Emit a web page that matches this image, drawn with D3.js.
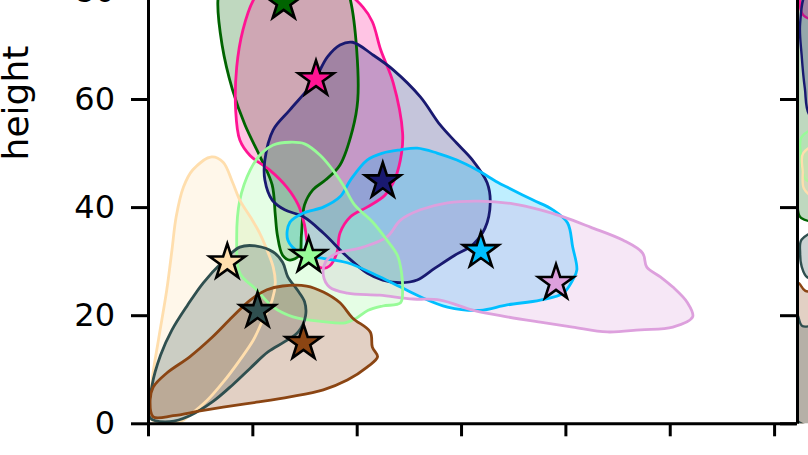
<!DOCTYPE html>
<html>
<head>
<meta charset="utf-8">
<script src="https://cdn.jsdelivr.net/npm/d3@7"></script>
<style>
  html, body { margin: 0; padding: 0; background: #fff; }
  svg { display: block; font-family: "DejaVu Sans", sans-serif; }
</style>
</head>
<body>
<svg id="chart" width="808" height="455"></svg>
<script>
// ---------- data (x: arbitrary units, y: height) ----------
const groupNames = ["g1", "g2", "g3", "g4", "g5", "g6", "g7", "g8", "g9"];
const groupColors = ["#006400", "#FF1493", "#191970", "#00BFFF", "#DDA0DD", "#98FB98", "#FFDEAD", "#2F4F4F", "#8B4513"];
const centerX = [13.0, 16.1, 22.5, 31.9, 39.1, 15.4, 7.6, 10.5, 14.9];
const centerY = [77.8, 63.7, 44.8, 31.9, 26.0, 31.0, 29.8, 20.8, 14.9];

const yTickValues = [0, 20, 40, 60, 80];
const xTickValues = [0, 10, 20, 30, 40, 50, 60];

const contourG1 = [[9.8,89.4],[14.6,88.5],[18.4,83.9],[19.4,78.3],[20.0,69.1],[20.1,59.8],[19.6,54.3],[18.4,47.8],[17.0,45.0],[15.8,43.2],[15.0,40.4],[14.7,34.8],[14.5,31.1],[13.6,30.2],[12.9,31.1],[12.4,34.8],[12.2,38.5],[11.9,44.1],[10.9,48.7],[9.3,55.2],[8.1,61.7],[7.1,70.0],[6.7,78.3],[7.4,84.8]];
const contourG2 = [[11.2,81.1],[14.6,81.6],[18.9,79.8],[20.6,77.0],[21.5,74.3],[22.3,69.1],[23.5,63.0],[24.4,53.7],[24.3,50.0],[23.7,45.4],[22.7,42.2],[21.0,40.0],[19.4,38.2],[18.4,35.2],[18.1,31.5],[17.4,29.1],[16.7,28.7],[15.9,29.8],[15.3,33.0],[15.0,36.7],[14.4,40.4],[13.3,43.7],[11.7,46.8],[9.8,49.5],[8.8,52.4],[8.4,58.0],[8.5,65.9],[9.1,72.8],[10.1,78.3]];
const contourG3 = [[19.6,70.5],[21.6,68.1],[23.5,65.4],[26.1,60.4],[28.0,55.2],[29.6,51.8],[31.1,48.7],[32.5,44.5],[32.8,40.8],[32.3,36.1],[31.1,33.0],[29.4,31.1],[27.5,28.7],[25.8,26.5],[24.2,26.0],[22.5,26.5],[21.0,27.8],[19.1,30.8],[16.8,35.2],[14.9,38.2],[13.1,39.5],[11.9,41.3],[11.2,45.0],[11.2,48.7],[12.0,54.3],[13.6,58.0],[15.8,63.0],[17.2,67.8],[18.4,70.0]];
const contourG4 = [[13.6,37.2],[14.9,38.9],[16.8,40.0],[18.4,41.9],[19.4,45.0],[21.0,48.7],[22.5,50.0],[24.2,50.6],[25.8,50.9],[27.7,50.0],[29.6,48.7],[31.5,46.9],[33.5,44.6],[34.4,43.7],[36.9,41.3],[38.8,39.5],[40.2,37.1],[40.7,32.6],[41.1,28.4],[40.7,26.5],[39.8,24.1],[37.6,22.8],[34.4,21.9],[31.8,20.9],[28.7,21.5],[26.1,23.4],[24.2,25.2],[22.2,27.1],[19.1,29.7],[16.5,30.6],[14.6,31.5],[13.4,33.9]];
const contourG5 = [[17.0,29.8],[17.9,31.3],[20.6,32.6],[22.9,34.5],[24.2,37.6],[26.1,39.5],[28.7,40.8],[31.8,41.1],[35.0,40.6],[37.6,39.5],[39.8,38.2],[42.4,36.3],[45.5,33.9],[47.4,31.5],[47.8,28.9],[49.1,27.1],[50.3,25.2],[51.7,22.3],[52.2,19.7],[50.3,17.8],[47.2,17.3],[44.0,16.9],[40.7,17.8],[37.6,18.7],[34.4,19.7],[31.2,20.9],[28.0,22.8],[25.4,23.0],[22.2,23.7],[19.1,24.1],[17.4,25.2],[16.8,27.4]];
const contourG6 = [[12.0,51.5],[13.6,52.0],[15.0,51.7],[16.5,49.6],[17.7,46.9],[18.7,44.1],[19.8,40.4],[21.5,37.3],[22.9,33.9],[23.9,31.1],[24.3,27.8],[24.4,24.7],[24.2,22.3],[22.5,21.7],[21.1,20.9],[20.0,19.5],[18.9,18.6],[16.8,18.8],[13.9,19.7],[12.0,21.5],[10.4,24.7],[8.8,27.8],[8.5,33.9],[8.8,41.3],[9.8,46.9],[10.9,50.0]];
const contourG7 = [[6.1,49.3],[7.2,48.3],[8.1,44.6],[8.8,41.3],[9.8,38.2],[10.7,35.2],[11.4,32.1],[12.0,28.9],[12.2,26.0],[11.9,22.8],[11.0,19.1],[10.1,15.4],[8.8,11.7],[7.2,7.6],[5.7,4.3],[4.0,1.5],[3.1,0.3],[1.2,0.2],[0.2,1.0],[0.4,8.0],[1.0,15.4],[1.8,24.7],[2.3,32.1],[2.7,38.2],[3.4,43.7],[4.3,46.9]];
const contourG8 = [[8.8,32.6],[10.4,32.8],[12.0,31.7],[12.9,29.8],[13.4,27.1],[14.3,24.7],[15.0,22.5],[15.1,19.9],[14.4,16.9],[13.1,15.1],[11.5,13.2],[9.8,10.2],[8.1,7.1],[6.2,4.0],[4.0,1.4],[2.1,0.3],[0.2,1.0],[0.4,7.1],[1.2,12.6],[2.3,17.3],[3.8,21.9],[5.3,26.0],[7.1,29.8]];
const contourG9 = [[9.8,22.8],[11.4,24.7],[12.9,25.4],[15.2,25.4],[16.8,24.3],[18.4,22.3],[19.6,19.5],[21.3,16.9],[21.5,14.1],[22.0,12.3],[21.0,10.4],[19.1,8.0],[16.8,6.2],[13.6,4.9],[10.4,3.9],[7.2,3.0],[5.0,2.3],[2.4,1.4],[0.5,1.2],[0.2,4.3],[0.5,6.7],[1.8,9.3],[4.0,12.3],[6.2,16.0],[8.1,19.7]];
const contours = [contourG1, contourG2, contourG3, contourG4, contourG5, contourG6, contourG7, contourG8, contourG9];

// neighbouring panel (only its left edge is visible)
const panel2Colors = ["#006400", "#FF1493", "#191970", "#98FB98", "#FFDEAD", "#2F4F4F", "#8B4513", "#2F4F4F"];
const panel2G1 = [[0.05,95],[0.05,40],[0.4,38],[3,38],[3,95]];
const panel2G2 = [[0.2,95],[0.25,80],[0.6,75.5],[2.5,75],[2.5,95]];
const panel2G3 = [[0.3,74],[0.45,68],[0.75,62],[1.2,57],[3,55],[3,80],[1,80]];
const panel2G6 = [[0.45,53],[0.35,50],[0.45,47.5],[0.9,45],[3,45],[3,55]];
const panel2G7 = [[0.6,50],[0.55,46.5],[0.65,43.5],[1.5,42],[3,42],[3,52]];
const panel2G8 = [[0.45,34],[0.3,31.5],[0.45,29],[1,27],[3,27],[3,36]];
const panel2G9 = [[0.05,26],[0.25,25.8],[0.8,24.5],[3,24],[3,0.4],[0.05,0.4]];
const panel2G8b = [[0.05,20],[0.5,18],[3,18],[3,0.4],[0.05,0.4]];
const panel2Contours = [panel2G1, panel2G2, panel2G3, panel2G6, panel2G7, panel2G8, panel2G9, panel2G8b];

// ---------- drawing ----------
const svg = d3.select("#chart");
const left = 148, right = 796, bottom = 423.3;

const x = d3.scaleLinear().domain([0, 62.1]).range([left, right]);
const y = d3.scaleLinear().domain([0, 80]).range([bottom, -9.1]);
const x2 = d3.scaleLinear().domain([0, 62.1]).range([797, 797 + (right - left)]);

const defs = svg.append("defs");
defs.append("clipPath").attr("id", "clip1")
  .append("rect").attr("x", left).attr("y", -50).attr("width", right - left).attr("height", bottom + 50);
defs.append("clipPath").attr("id", "clip2")
  .append("rect").attr("x", 797).attr("y", -50).attr("width", 100).attr("height", bottom + 50);

const line1 = d3.line().x(d => x(d[0])).y(d => y(d[1])).curve(d3.curveCatmullRomClosed.alpha(0.5));
const line2 = d3.line().x(d => x2(d[0])).y(d => y(d[1])).curve(d3.curveCatmullRomClosed.alpha(0.5));

// neighbouring panel
const p2 = svg.append("g").attr("clip-path", "url(#clip2)");
p2.selectAll("path.f").data(panel2Contours).join("path")
  .attr("d", line2).attr("fill", (d, i) => panel2Colors[i]).attr("fill-opacity", 0.25)
  .attr("stroke", (d, i) => panel2Colors[i]).attr("stroke-width", 2.4);

// main panel
const g = svg.append("g").attr("clip-path", "url(#clip1)");
g.selectAll("path.fill").data(contours).join("path")
  .attr("class", "fill")
  .attr("d", line1)
  .attr("fill", (d, i) => groupColors[i])
  .attr("fill-opacity", 0.25)
  .attr("stroke", "none");
g.selectAll("path.edge").data(contours).join("path")
  .attr("class", "edge")
  .attr("d", line1)
  .attr("fill", "none")
  .attr("stroke", (d, i) => groupColors[i])
  .attr("stroke-width", 2.8);

const star = d3.symbol().type(d3.symbolStar).size(390);
svg.append("g").selectAll("path").data(groupNames).join("path")
  .attr("transform", (d, i) => `translate(${x(centerX[i])},${y(centerY[i])})`)
  .attr("d", star)
  .attr("fill", (d, i) => groupColors[i])
  .attr("stroke", "#000")
  .attr("stroke-width", 2.6)
  .attr("stroke-linejoin", "miter");

// axes
const yAxis = d3.axisLeft(y).tickValues(yTickValues).tickSize(17).tickSizeOuter(0).tickPadding(16);
const ya = svg.append("g").attr("transform", `translate(${left},0)`).call(yAxis);
ya.selectAll("text").attr("font-size", 32).attr("fill", "#000").attr("font-family", "DejaVu Sans");
ya.selectAll("line, path").attr("stroke", "#000").attr("stroke-width", 3);

const y2Axis = d3.axisLeft(y).tickValues(yTickValues).tickSize(17).tickSizeOuter(0).tickFormat("");
const ya2 = svg.append("g").attr("transform", `translate(797,0)`).call(y2Axis);
ya2.selectAll("line, path").attr("stroke", "#000").attr("stroke-width", 3);

const xAxis = d3.axisBottom(x).tickValues(xTickValues).tickSize(13).tickSizeOuter(0).tickFormat("");
const xa = svg.append("g").attr("transform", `translate(0,${bottom})`).call(xAxis);
xa.selectAll("line, path").attr("stroke", "#000").attr("stroke-width", 3);

svg.append("text")
  .attr("transform", `translate(28,${103}) rotate(-90)`)
  .attr("text-anchor", "middle")
  .attr("font-size", 36)
  .attr("font-family", "DejaVu Sans")
  .attr("fill", "#000")
  .text("height");
</script>
</body>
</html>
